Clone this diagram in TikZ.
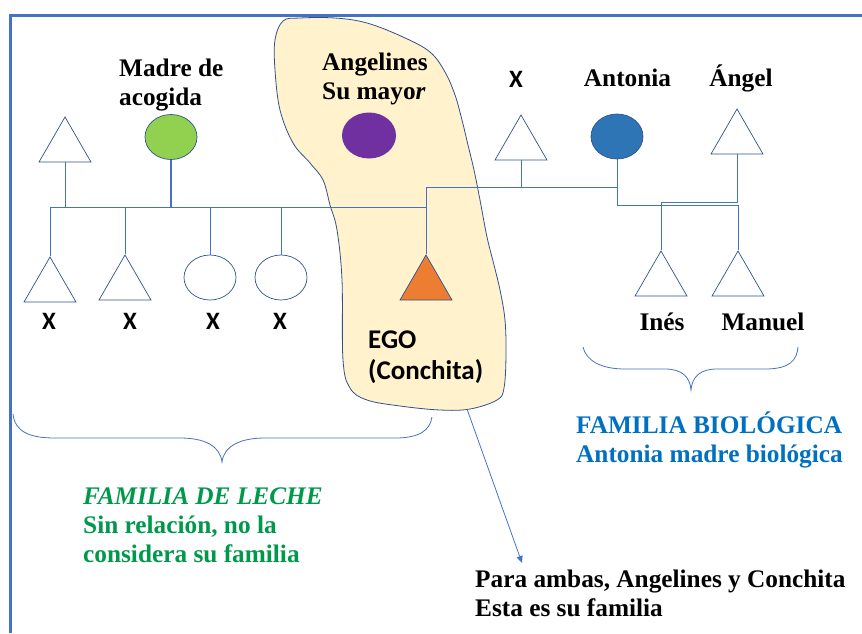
\documentclass[tikz,border=0pt]{standalone}
\usepackage{fontspec}
\setmainfont{Liberation Serif}
\newfontfamily\calibri{Carlito}
\usepackage{tikz}
\usetikzlibrary{shapes,arrows.meta,positioning}
\definecolor{azulLinea}{HTML}{4472C4}
\definecolor{contorno}{HTML}{2F528F}
\definecolor{amarillo}{HTML}{FFF2CC}
\definecolor{verdeC}{HTML}{92D050}
\definecolor{morado}{HTML}{7030A0}
\definecolor{naranja}{HTML}{ED7D31}
\definecolor{azulAntonia}{HTML}{2E75B6}
\definecolor{azulTexto}{HTML}{0070C0}
\definecolor{verdeTexto}{HTML}{00994C}
\tikzstyle{varon}=[regular polygon, regular polygon sides=3, minimum size=60pt, inner sep=0pt, draw=contorno, line width=0.7pt]
\tikzstyle{mujer}=[ellipse, minimum width=52pt, minimum height=45pt, inner sep=0pt, draw=contorno, line width=0.7pt]
\tikzstyle{rel}=[draw=azulLinea, line width=1pt]
\tikzstyle{nombre}=[inner sep=0pt, font=\fontsize{25.3}{29}\selectfont\bfseries, align=left]
\tikzstyle{equis}=[inner sep=0pt, font=\fontsize{25}{30}\selectfont\calibri\bfseries, align=left]

\begin{document}
\begin{tikzpicture}[x=1pt,y=-1pt]
		\useasboundingbox (0,0) rectangle (862,633);
		\draw[draw=contorno, fill=amarillo, line width=0.8pt] plot[smooth cycle, tension=0.6] coordinates {(283,21) (300,18) (335,18) (367,23) (403,37) (430,52) (445,72) (455,95) (462,120) (468,145) (474,170) (480,200) (487,237) (494,265) (500,290) (505,320) (506,355) (504,388) (497,400) (470,409) (440,410) (400,406) (367,400) (350,388) (343,360) (342,280) (337,230) (330,205) (323,180) (310,163) (293,143) (280,110) (275,70) (275,40)};
		\draw[azulLinea, line width=3.5pt] (10.3,633) -- (10.3,15.3) -- (862,15.3);
		\node[varon](abuelo)at(65,147){};
		\node[mujer, fill=verdeC](madre)at(171,137){};
		\node[mujer, fill=morado, draw=none, minimum width=54pt, minimum height=46pt](angelines)at(369,135.5){};
		\node[varon](xpadre)at(521,145){};
		\node[mujer, fill=azulAntonia](antonia)at(617,136.5){};
		\node[varon](angel)at(737,139){};
		\node[varon](h1)at(50,287){};
		\node[varon](h2)at(125,285){};
		\node[mujer](h3)at(210,277.5){};
		\node[mujer](h4)at(281,277.5){};
		\node[varon, fill=naranja](ego)at(426,285){};
		\node[varon](ines)at(661,281){};
		\node[varon](manuel)at(738,281){};
		\coordinate(lecheJ)at(426,207);
		\coordinate(rama)at(426,187);
		\draw[rel](h1.north)|-(lecheJ);
		\foreach \h in {h2,h3,h4} \draw[rel](\h.north)--(\h.north|-lecheJ);
		\draw[rel](abuelo.south)--(abuelo.south|-lecheJ);
		\draw[rel, line width=1.6pt](madre.south)--(madre.south|-lecheJ);
		\draw[rel](ego.north)--(rama)-|(antonia.south);
		\draw[rel](xpadre.south)--(xpadre.south|-rama);
		\draw[rel](antonia.south)--++(0,46)-|(manuel.north);
		\draw[rel](angel.south)--++(0,48)-|(ines.north);
		\coordinate(blobS)at(467,409);
		\coordinate(flecha)at(522,563);
		\draw[rel, line width=0.8pt, -{Triangle[length=7pt,width=6pt]}](blobS)--(flecha);
		\draw[rel, line width=0.8pt] (13,414) .. controls (15,432) and (30,438) .. (55,438) -- (180,438) .. controls (205,438) and (220,446) .. (222,462) .. controls (224,446) and (240,438) .. (265,438) -- (395,438) .. controls (420,438) and (430,430) .. (432,417);
		\draw[rel, line width=0.8pt] (583,347) .. controls (586,360) and (600,369) .. (625,369) -- (665,369) .. controls (682,369) and (690,377) .. (691,390) .. controls (692,377) and (700,369) .. (717,369) -- (765,369) .. controls (790,369) and (797,360) .. (798,347);
		\node[nombre, anchor=base west](tMadre)at(119,105){Madre de\\acogida};
		\node[nombre, anchor=base west](tAngelines)at(322,99){Angelines\\Su mayo\textit{r}};
		\node[equis, anchor=base](tXpadre)at(516,87){X};
		\node[nombre, anchor=base](tAntonia)at(627.5,86){Antonia};
		\node[nombre, anchor=base](tAngel)at(741,86){Ángel};
		\node[nombre, anchor=base](tInes)at(662,330){Inés};
		\node[nombre, anchor=base](tManuel)at(763,330){Manuel};
		\foreach \x/\n in {49/1,130/2,213/3,280/4} \node[equis, anchor=base](tX\n)at(\x,329){X};
		\node[equis, anchor=base west, font=\fontsize{27}{31}\selectfont\calibri\bfseries](tEgo)at(368,379){EGO\\(Conchita)};
		\node[nombre, anchor=base west, text=azulTexto](tBio)at(576,462){FAMILIA BIOLÓGICA\\Antonia madre biológica};
		\node[nombre, anchor=base west, text=verdeTexto](tLeche)at(83,562){\textit{FAMILIA DE LECHE}\\Sin relación, no la\\considera su familia};
		\node[nombre, anchor=base west](tPara)at(475,616){Para ambas, Angelines y Conchita\\Esta es su familia};
\end{tikzpicture}
\end{document}
